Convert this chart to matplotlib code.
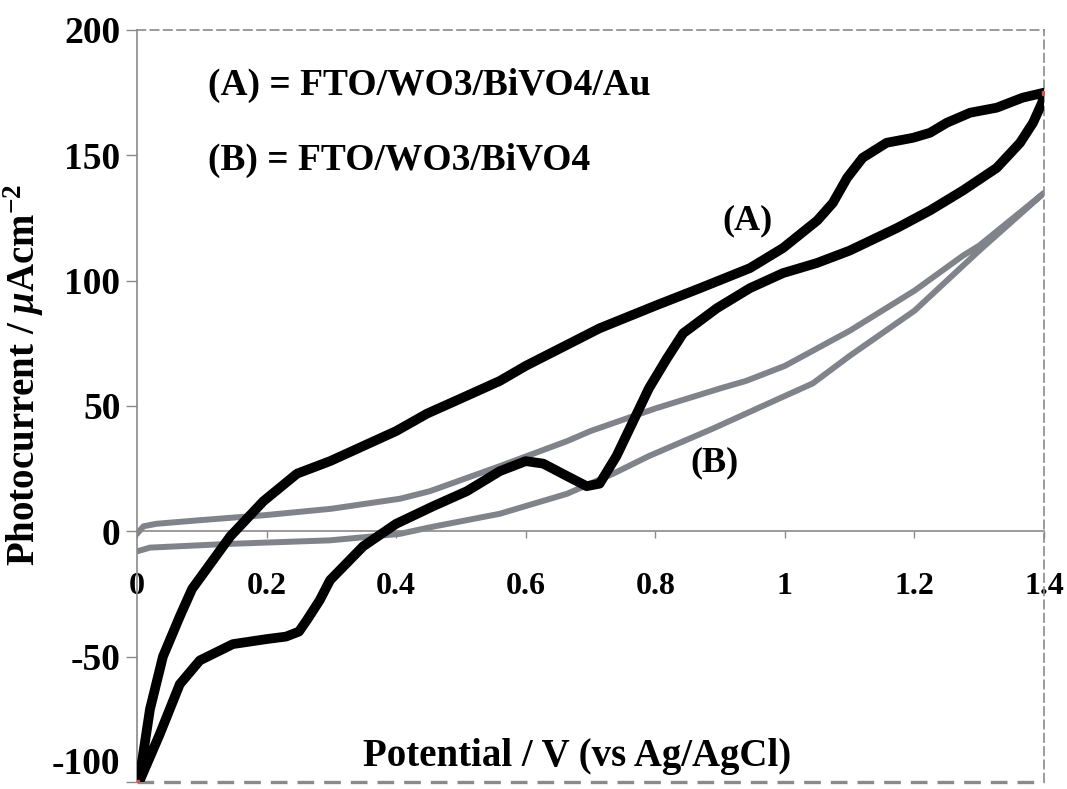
import matplotlib
matplotlib.use("Agg")
import matplotlib.pyplot as plt

# (A) FTO/WO3/BiVO4/Au  -- closed loop, forward then reverse
a_fwd_x = [0.0, 0.005, 0.035, 0.066, 0.097, 0.148, 0.20, 0.23, 0.25, 0.262, 0.282, 0.298,
           0.349, 0.40, 0.457, 0.509, 0.56, 0.60, 0.627, 0.664, 0.694, 0.714, 0.74,
           0.766, 0.79, 0.818, 0.843, 0.895, 0.946, 0.997, 1.049, 1.10, 1.173,
           1.224, 1.275, 1.327, 1.363, 1.383, 1.397, 1.40]
a_fwd_y = [-100, -99, -81, -61, -51.5, -45, -43, -42, -40, -35.5, -27.5, -19.5,
           -6, 3, 10, 16, 24, 28, 27, 22, 18, 19, 30,
           44, 57, 69, 79, 89, 97, 103, 107, 112, 121,
           128, 136, 145, 155, 163, 171, 175]
a_rev_x = [1.40, 1.367, 1.327, 1.286, 1.25, 1.224, 1.198, 1.157, 1.12, 1.096, 1.074,
           1.05, 0.997, 0.946, 0.869, 0.80, 0.714, 0.60, 0.56, 0.50, 0.448, 0.40,
           0.349, 0.298, 0.247, 0.195, 0.144, 0.085, 0.066, 0.04, 0.02, 0.005, 0.0]
a_rev_y = [175, 173, 169, 167, 163, 159, 157, 155, 149, 141, 131,
           124, 113, 105, 97, 90, 81, 66, 60, 53, 47, 40,
           34, 28, 23, 12, -2, -23, -34, -50, -71, -96.5, -100]

# (B) FTO/WO3/BiVO4
b_fwd_x = [0.0, 0.02, 0.144, 0.298, 0.406, 0.452, 0.56, 0.664, 0.735, 0.79, 0.889,
           1.0, 1.043, 1.10, 1.20, 1.275, 1.30, 1.40]
b_fwd_y = [-8, -6.5, -5, -3.6, -1, 1.6, 7, 15, 23, 30, 41,
           54, 59, 70, 88, 106, 112, 135]
b_rev_x = [1.40, 1.30, 1.275, 1.20, 1.10, 1.0, 0.94, 0.90, 0.80, 0.70, 0.664, 0.56,
           0.452, 0.406, 0.30, 0.20, 0.10, 0.03, 0.01, 0.0]
b_rev_y = [135, 114, 110, 96, 80, 66, 60, 57, 49, 40, 36, 26,
           16, 13, 9, 6.5, 4.5, 3, 2, -1]

x_ticks = [0, 0.2, 0.4, 0.6, 0.8, 1.0, 1.2, 1.4]
x_tick_labels = ["0", "0.2", "0.4", "0.6", "0.8", "1", "1.2", "1.4"]
y_ticks = [-100, -50, 0, 50, 100, 150, 200]

plt.rcParams['font.family'] = ['Liberation Serif', 'DejaVu Serif']
plt.rcParams['font.weight'] = 'bold'
plt.rcParams['axes.unicode_minus'] = False
plt.rcParams['mathtext.fontset'] = 'custom'
plt.rcParams['mathtext.rm'] = 'Liberation Serif:bold'
plt.rcParams['mathtext.it'] = 'Liberation Serif:italic:bold'
plt.rcParams['mathtext.bf'] = 'Liberation Serif:bold'

fig = plt.figure(figsize=(10.67, 7.89), dpi=100)
ax = fig.add_axes([0.1284, 0.0089, 0.8501, 0.9531])

axis_gray = '#8a8a8a'
ax.plot(b_fwd_x + b_rev_x, b_fwd_y + b_rev_y, color='#80848a', lw=4.3,
        solid_capstyle='round', solid_joinstyle='round', zorder=2)
ax.plot(a_fwd_x + a_rev_x, a_fwd_y + a_rev_y, color='black', lw=7,
        solid_joinstyle='round', zorder=3)
ax.plot([0, 1.4], [-100, 175], ls='none', marker='s', ms=3, color='#d9534f', zorder=4)

ax.set_xlim(0, 1.4)
ax.set_ylim(-100, 200)

# spines
ax.spines['left'].set_color(axis_gray)
ax.spines['left'].set_linewidth(1.2)
ax.spines['bottom'].set_position(('data', 0))
ax.spines['bottom'].set_color(axis_gray)
ax.spines['bottom'].set_linewidth(1.2)
for s in ['top', 'right']:
    ax.spines[s].set_color(axis_gray)
    ax.spines[s].set_linestyle((0, (5, 3)))
    ax.spines[s].set_linewidth(1.2)
ax.axhline(-100, color=axis_gray, ls=(0, (5, 3)), lw=2.4, clip_on=False, zorder=1)

ax.set_xticks(x_ticks)
ax.set_xticklabels(x_tick_labels)
ax.set_yticks(y_ticks)
ax.tick_params(axis='x', direction='out', length=5, width=1, color=axis_gray,
               pad=24, labelsize=23)
ax.tick_params(axis='y', direction='out', length=8, width=1, color=axis_gray,
               pad=4, labelsize=27)
ax.get_yticklabels()[0].set_verticalalignment('bottom')

ax.set_ylabel(r'Photocurrent / $\mu$Acm$^{-2}$', fontsize=28, fontweight='bold')
ax.yaxis.set_label_coords(-0.100, 0.541)

ax.text(0.68, -90, 'Potential / V (vs Ag/AgCl)', fontsize=28, fontweight='bold',
        ha='center', va='center')
ax.text(0.11, 178, '(A) = FTO/WO3/BiVO4/Au', fontsize=27, fontweight='bold',
        ha='left', va='center')
ax.text(0.11, 148, '(B) = FTO/WO3/BiVO4', fontsize=27, fontweight='bold',
        ha='left', va='center')
ax.text(0.943, 124, '(A)', fontsize=26, fontweight='bold', ha='center', va='center')
ax.text(0.892, 27.5, '(B)', fontsize=26, fontweight='bold', ha='center', va='center')

fig.savefig('out.png', dpi=100)
